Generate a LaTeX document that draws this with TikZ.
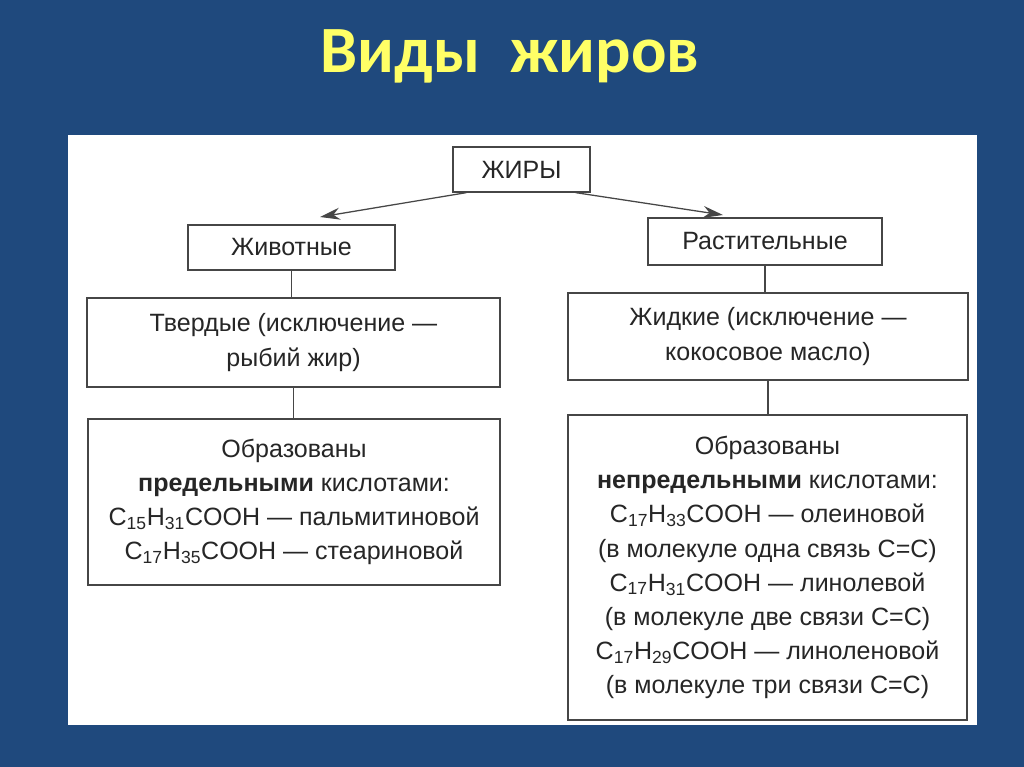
\documentclass[tikz,border=0pt]{standalone}
\usepackage{fontspec}
\setmainfont{Liberation Sans}
\newfontfamily\titlefont{Carlito}
\usetikzlibrary{arrows.meta}
\definecolor{slideblue}{RGB}{31,73,125}
\definecolor{titleyellow}{RGB}{255,255,102}
\definecolor{boxline}{RGB}{70,70,70}

\begin{document}
\begin{tikzpicture}[x=0.025cm, y=-0.025cm]

      \tikzset{block/.style={draw=boxline, line width=0.9pt, fill=white, align=center, inner sep=2pt, text=black!85, font=\fontsize{17.8}{24.3}\selectfont},
               link/.style={draw=boxline, line width=0.9pt},
               arr/.style={link, -{Stealth[length=5mm, width=3mm]}}}

      \useasboundingbox (0,0) rectangle (1024,767);
%% Slide
      \fill[slideblue] (0,0) rectangle (1024,767);
      \fill[white] (68,135) rectangle (977,725);
      \node[anchor=base, text=titleyellow, font=\titlefont\bfseries\fontsize{47}{50}\selectfont] (title) at (510,73) {Виды\ \ жиров};

%% Blocks
      \node[block, minimum width=3.425cm, minimum height=1.125cm] (zhiry) at (521.5,169.5) {ЖИРЫ};
      \node[block, minimum width=5.175cm, minimum height=1.125cm] (zhiv) at (291.5,247.5) {Животные};
      \node[block, minimum width=5.85cm, minimum height=1.175cm] (rast) at (765,241.5) {Растительные};
      \node[block, minimum width=10.325cm, minimum height=2.225cm] (tverd) at (293.5,342.5) {Твердые (исключение —\\ рыбий жир)};
      \node[block, minimum width=10cm, minimum height=2.175cm] (zhidk) at (768,336.5) {Жидкие (исключение —\\ кокосовое масло)};
      \node[block, minimum width=10.3cm, minimum height=4.15cm] (obrA) at (294,502) {Образованы\\ \textbf{предельными} кислотами:\\ C\textsubscript{15}H\textsubscript{31}COOH — пальмитиновой\\ C\textsubscript{17}H\textsubscript{35}COOH — стеариновой};
      \node[block, minimum width=9.975cm, minimum height=7.625cm] (obrB) at (767.5,567.5) {Образованы\\ \textbf{непредельными} кислотами:\\ C\textsubscript{17}H\textsubscript{33}COOH — олеиновой\\ (в молекуле одна связь C=C)\\ C\textsubscript{17}H\textsubscript{31}COOH — линолевой\\ (в молекуле две связи C=C)\\ C\textsubscript{17}H\textsubscript{29}COOH — линоленовой\\ (в молекуле три связи C=C)};

      \coordinate (toZhiv) at (320,217);
      \coordinate (toRast) at (723,215);

%Edges
      \draw[arr] ([xshift=0.35cm]zhiry.south west) -- (toZhiv);
      \draw[arr] ([xshift=-0.375cm]zhiry.south east) -- (toRast);
      \path (zhiv.south) edge[link] (zhiv.south |- tverd.north);
      \path (tverd.south) edge[link] (tverd.south |- obrA.north);
      \path (rast.south) edge[link] (rast.south |- zhidk.north);
      \path (zhidk.south) edge[link] (zhidk.south |- obrB.north);
\end{tikzpicture}
\end{document}
